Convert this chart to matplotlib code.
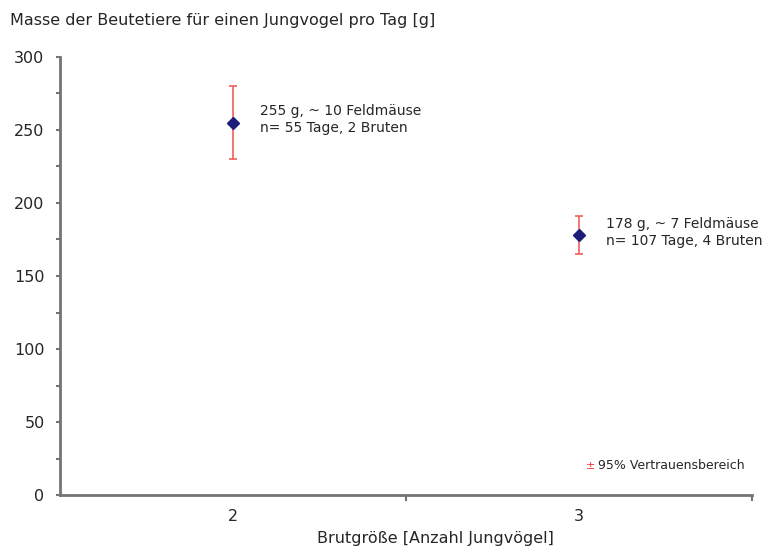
import matplotlib.pyplot as plt
from matplotlib.ticker import MultipleLocator, FixedLocator

plt.rcParams['font.family'] = ['DejaVu Sans']

brutgroesse = [2, 3]
masse = [255, 178]
ki_unten = [230, 165]
ki_oben = [280, 191]
beschriftung = ["255 g, ~ 10 Feldmäuse\nn= 55 Tage, 2 Bruten",
                "178 g, ~ 7 Feldmäuse\nn= 107 Tage, 4 Bruten"]

achse = '#747474'
schrift = '#262626'

fig = plt.figure(figsize=(7.67, 5.52), dpi=100)
ax = fig.add_axes([0.078, 0.103, 0.902, 0.794])

err = [[m - u for m, u in zip(masse, ki_unten)],
       [o - m for m, o in zip(masse, ki_oben)]]
ax.errorbar(brutgroesse, masse, yerr=err, fmt='none', ecolor='#f0605a',
            elinewidth=1.2, capsize=3, capthick=1.2, zorder=2)
ax.plot(brutgroesse, masse, 'D', color='#1c1c7a', markersize=6, zorder=3)

for x, y, txt in zip(brutgroesse, masse, beschriftung):
    ax.text(x + 0.08, y + 2, txt, fontsize=10, color=schrift,
            va='center', ha='left', linespacing=1.3)

ax.set_xlim(1.5, 3.5)
ax.set_ylim(0, 300)
ax.yaxis.set_major_locator(MultipleLocator(50))
ax.yaxis.set_minor_locator(MultipleLocator(25))
ax.xaxis.set_major_locator(FixedLocator(brutgroesse))
ax.xaxis.set_minor_locator(FixedLocator([2.5, 3.5]))

for s in ['top', 'right']:
    ax.spines[s].set_visible(False)
for s in ['left', 'bottom']:
    ax.spines[s].set_color(achse)
    ax.spines[s].set_linewidth(2)

ax.tick_params(axis='y', which='both', direction='out', color=achse,
               width=1.5, length=3, labelsize=11.5, pad=8, labelcolor=schrift)
ax.tick_params(axis='x', which='major', length=0, labelsize=11.5, pad=10,
               labelcolor=schrift)
ax.tick_params(axis='x', which='minor', length=4, width=1.5, color=achse)

ax.set_xlabel('Brutgröße [Anzahl Jungvögel]', fontsize=11.5, color=schrift,
              labelpad=5, x=0.543)
fig.text(0.013, 0.962, 'Masse der Beutetiere für einen Jungvogel pro Tag [g]',
         fontsize=11.5, color=schrift, va='center', ha='left')

ax.text(3.02, 20, '±', color='#e8302a', fontsize=8, va='center', ha='left')
ax.text(3.055, 20, '95% Vertrauensbereich', color=schrift, fontsize=9,
        va='center', ha='left')

fig.savefig('out.png', dpi=100)
